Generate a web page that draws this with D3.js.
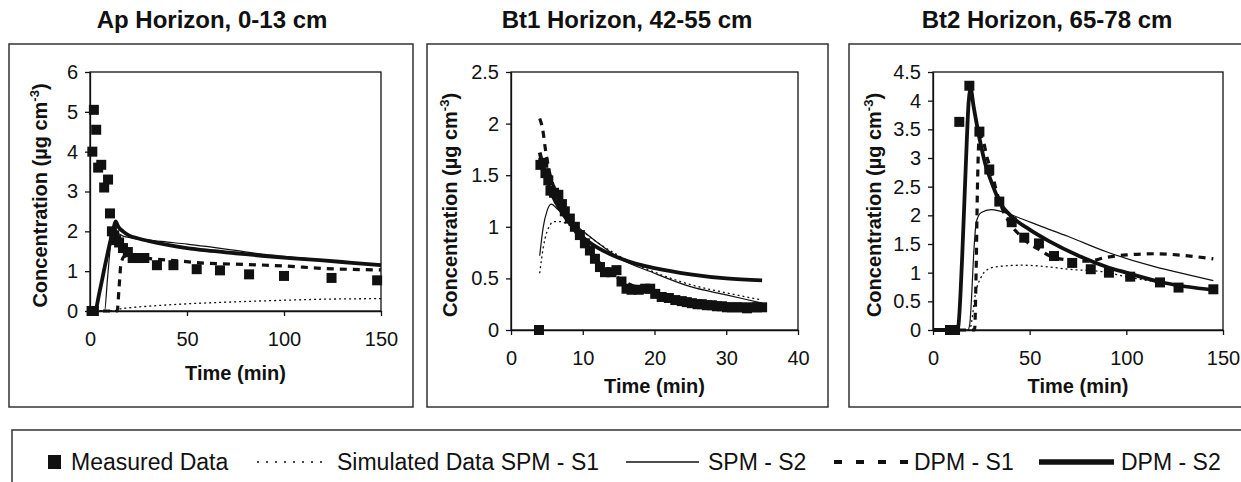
<!DOCTYPE html>
<html>
<head>
<meta charset="utf-8">
<script src="https://cdnjs.cloudflare.com/ajax/libs/d3/7.8.5/d3.min.js"></script>
<style>
body{margin:0;background:#fff;}
svg{display:block;font-family:"Liberation Sans",Arial,sans-serif;}
</style>
</head>
<body>
<svg id="chart" width="1241" height="482"></svg>
<script>
// ---- Ap horizon, 0-13 cm ----
var apMeasured = [[0.8,0],[2,0],[1.2,4.0],[2,5.05],[3.2,4.55],[4.2,3.6],[5.8,3.67],[7.3,3.1],[9.3,3.3],[10.3,2.45],[11.3,2.0],[12.5,1.9],[13.5,1.78],[15,1.72],[17,1.58],[19.5,1.48],[22,1.33],[25.5,1.33],[28,1.33],[34.5,1.15],[43,1.15],[55,1.05],[67,1.02],[82,0.92],[100,0.88],[124.5,0.83],[148,0.77]];
var apSpmS1 = [[0,0],[13,0],[14,0.04],[20,0.08],[30,0.12],[50,0.18],[75,0.23],[100,0.27],[125,0.3],[150,0.31]];
var apSpmS2 = [[0,0],[7.5,0],[9,0.8],[10.5,1.6],[12,1.92],[14,1.95],[17,1.88],[22,1.83],[30,1.78],[40,1.73],[50,1.68],[60,1.62],[75,1.52],[90,1.42],[105,1.35],[120,1.28],[135,1.22],[150,1.16]];
var apDpmS1 = [[0,0],[14,0],[15,0.6],[16,1.2],[18,1.38],[22,1.38],[30,1.32],[40,1.28],[60,1.2],[80,1.17],[100,1.13],[120,1.07],[150,1.03]];
var apDpmS2 = [[0,0],[2.5,0],[5,0.5],[8,1.2],[10,1.65],[12,2.05],[13.2,2.25],[14.5,2.12],[17,2.0],[20,1.9],[25,1.82],[30,1.76],[40,1.66],[50,1.58],[60,1.52],[75,1.45],[90,1.38],[105,1.32],[120,1.27],[135,1.21],[150,1.15]];
var apXTicks = [0,50,100,150];
var apYTicks = [0,1,2,3,4,5,6];

// ---- Bt1 horizon, 42-55 cm ----
var bt1Measured = [[3.9,0],[4.1,1.6],[4.5,1.62],[4.8,1.52],[5.2,1.45],[5.5,1.35],[6.0,1.33],[6.6,1.31],[7.1,1.22],[7.5,1.15],[8.2,1.08],[8.9,1.0],[9.6,0.92],[10.3,0.84],[11.0,0.77],[11.7,0.69],[12.4,0.61],[13.1,0.56],[14.0,0.56],[14.7,0.58],[15.4,0.47],[16.1,0.40],[16.8,0.39],[17.8,0.39],[18.7,0.40],[19.4,0.40],[20.1,0.35],[21.0,0.32],[22.0,0.31],[22.9,0.29],[23.8,0.28],[24.5,0.27],[25.2,0.26],[26.0,0.25],[26.6,0.25],[27.3,0.24],[28.0,0.24],[28.7,0.23],[29.4,0.23],[30.1,0.22],[30.8,0.22],[31.5,0.22],[32.2,0.22],[32.9,0.21],[33.6,0.22],[34.3,0.22],[35.0,0.22]];
var bt1SpmS1 = [[4,0.55],[4.5,0.8],[5,0.95],[6,1.05],[7,1.05],[8,1.02],[10,0.95],[12,0.85],[15,0.72],[20,0.56],[25,0.44],[30,0.36],[35,0.29]];
var bt1SpmS2 = [[4,0.72],[4.5,1.0],[5,1.15],[5.6,1.22],[6.5,1.17],[8,1.07],[10,0.96],[12,0.85],[15,0.7],[20,0.55],[25,0.42],[30,0.34],[35,0.26]];
var bt1DpmS1 = [[4,2.05],[4.4,1.95],[4.8,1.75],[5.3,1.55],[6,1.38],[7,1.22],[8,1.07],[9,0.95],[10,0.85],[11,0.76],[12,0.68],[13,0.6],[14,0.55],[16,0.46],[18,0.4],[20,0.35],[22,0.31],[25,0.27],[28,0.25],[31,0.23],[35,0.22]];
var bt1DpmS2 = [[4,1.72],[4.8,1.5],[5.8,1.3],[7,1.15],[8,1.05],[10,0.9],[12,0.8],[15,0.7],[17,0.65],[20,0.6],[25,0.54],[30,0.5],[35,0.48]];
var bt1XTicks = [0,10,20,30,40];
var bt1YTicks = [0,0.5,1,1.5,2,2.5];

// ---- Bt2 horizon, 65-78 cm ----
var bt2Measured = [[8.8,0],[11.4,0],[13.6,3.63],[18.8,4.26],[24,3.46],[29.1,2.8],[34.3,2.24],[40.7,1.88],[47.2,1.61],[54.8,1.51],[62.6,1.29],[72,1.17],[81.6,1.06],[91,1.0],[102,0.93],[117.4,0.83],[127,0.74],[145,0.71]];
var bt2SpmS1 = [[0,0],[19,0],[20,0.15],[21.7,0.58],[25,0.93],[28,1.05],[32,1.1],[46,1.13],[60,1.1],[70,1.06],[87,1.02],[100,0.93],[115,0.84],[130,0.76],[145,0.7]];
var bt2SpmS2 = [[0,0],[18,0],[19,0.1],[20,0.6],[21,1.3],[22.5,1.9],[25,2.05],[30,2.1],[35,2.07],[45,1.95],[55,1.82],[70,1.63],[90,1.36],[115,1.1],[130,0.98],[145,0.86]];
var bt2DpmS1 = [[0,0],[21.5,0],[22.3,1.0],[23,2.5],[24,3.4],[26,3.3],[28,3.0],[30,2.8],[33,2.4],[36,2.1],[40,1.85],[45,1.65],[50,1.5],[55,1.4],[60,1.3],[70,1.22],[80,1.2],[90,1.27],[100,1.31],[115,1.33],[130,1.3],[145,1.24]];
var bt2DpmS2 = [[0,0],[12,0],[13,0.05],[15,1.2],[17,2.9],[18.5,4.0],[19.5,4.2],[21,3.9],[24,3.35],[27,2.9],[30,2.6],[35,2.2],[40,2.0],[50,1.75],[60,1.55],[75,1.3],[90,1.1],[100,1.0],[120,0.82],[145,0.7]];
var bt2XTicks = [0,50,100,150];
var bt2YTicks = [0,0.5,1,1.5,2,2.5,3,3.5,4,4.5];

var seriesNames = ["Simulated Data SPM - S1","SPM - S2","DPM - S1","DPM - S2"];

// line look for each simulated series (plot / legend)
var lineStyles = {
	spmS1:{width:1.3,dash:"2,3",legWidth:1.5,legDash:"2,7"},
	spmS2:{width:1.2,dash:null,legWidth:1.5,legDash:null},
	dpmS1:{width:3.2,dash:"7,6",legWidth:4,legDash:"8,14"},
	dpmS2:{width:3.8,dash:null,legWidth:5.5,legDash:null}
};

var panels = [
	{title:"Ap Horizon, 0-13 cm",box:[9,44,404,363],plot:{l:90,r:381,t:72,b:311},titleX:212,ylabX:40,xlabY:380,
	 xDomain:[0,150],yDomain:[0,6],xTicks:apXTicks,yTicks:apYTicks,measured:apMeasured,
	 lines:{spmS1:apSpmS1,spmS2:apSpmS2,dpmS1:apDpmS1,dpmS2:apDpmS2}},
	{title:"Bt1 Horizon, 42-55 cm",box:[427,44,401,363],plot:{l:511,r:798,t:72,b:330},titleX:627,ylabX:450,xlabY:393,
	 xDomain:[0,40],yDomain:[0,2.5],xTicks:bt1XTicks,yTicks:bt1YTicks,measured:bt1Measured,
	 lines:{spmS1:bt1SpmS1,spmS2:bt1SpmS2,dpmS1:bt1DpmS1,dpmS2:bt1DpmS2}},
	{title:"Bt2 Horizon, 65-78 cm",box:[849,44,420,363],plot:{l:933,r:1223,t:72,b:330},titleX:1047,ylabX:874,xlabY:393,
	 xDomain:[0,150],yDomain:[0,4.5],xTicks:bt2XTicks,yTicks:bt2YTicks,measured:bt2Measured,
	 lines:{spmS1:bt2SpmS1,spmS2:bt2SpmS2,dpmS1:bt2DpmS1,dpmS2:bt2DpmS2}}
];

var svg = d3.select("#chart");
var ink = "#111";

panels.forEach(function(p){
	var x = d3.scaleLinear().domain(p.xDomain).range([p.plot.l,p.plot.r]);
	var y = d3.scaleLinear().domain(p.yDomain).range([p.plot.b,p.plot.t]);

	// outer frame of the panel
	svg.append("rect")
		.attr("x",p.box[0]).attr("y",p.box[1])
		.attr("width",p.box[2]).attr("height",p.box[3])
		.attr("fill","none").attr("stroke","#333").attr("stroke-width",1.5);

	svg.append("text")
		.attr("x",p.titleX).attr("y",28)
		.attr("text-anchor","middle")
		.attr("font-size",24).attr("font-weight","bold")
		.attr("fill",ink)
		.text(p.title);

	// plot area box
	svg.append("rect")
		.attr("x",p.plot.l).attr("y",p.plot.t)
		.attr("width",p.plot.r-p.plot.l).attr("height",p.plot.b-p.plot.t)
		.attr("fill","none").attr("stroke",ink).attr("stroke-width",1.3);

	var gx = svg.append("g")
		.attr("transform","translate(0,"+p.plot.b+")")
		.call(d3.axisBottom(x).tickValues(p.xTicks).tickSize(5).tickSizeOuter(0).tickPadding(16)
			.tickFormat(function(d){return d;}));
	var gy = svg.append("g")
		.attr("transform","translate("+p.plot.l+",0)")
		.call(d3.axisLeft(y).tickValues(p.yTicks).tickSize(5).tickSizeOuter(0).tickPadding(7)
			.tickFormat(function(d){return d;}));
	[gx,gy].forEach(function(g){
		g.attr("font-family",null).attr("font-size",20);
		g.selectAll("path,line").attr("stroke",ink).attr("stroke-width",1.3);
		g.selectAll("text").attr("fill",ink);
	});

	svg.append("text")
		.attr("x",(p.plot.l+p.plot.r)/2).attr("y",p.xlabY)
		.attr("text-anchor","middle")
		.attr("font-size",20).attr("font-weight","bold").attr("fill",ink)
		.text("Time (min)");

	var yl = svg.append("text")
		.attr("transform","translate("+p.ylabX+","+((p.plot.t+p.plot.b)/2+4)+") rotate(-90)")
		.attr("text-anchor","middle")
		.attr("dy","0.35em")
		.attr("font-size",20).attr("font-weight","bold").attr("fill",ink);
	yl.append("tspan").text("Concentration (\u00b5g cm");
	yl.append("tspan").attr("dy",-8).attr("font-size",13).text("-3");
	yl.append("tspan").attr("dy",8).text(")");

	// measured squares
	svg.append("g").selectAll("rect")
		.data(p.measured)
		.enter()
		.append("rect")
		.attr("x",function(d){return x(d[0])-5;})
		.attr("y",function(d){return y(d[1])-5;})
		.attr("width",10).attr("height",10)
		.attr("fill",ink);

	var line = d3.line()
		.x(function(d){return x(d[0]);})
		.y(function(d){return y(d[1]);})
		.curve(d3.curveMonotoneX);

	["spmS1","spmS2","dpmS1","dpmS2"].forEach(function(k){
		svg.append("path")
			.datum(p.lines[k])
			.attr("d",line)
			.attr("fill","none")
			.attr("stroke",ink)
			.attr("stroke-width",lineStyles[k].width)
			.attr("stroke-dasharray",lineStyles[k].dash);
	});
});

// legend
svg.append("rect")
	.attr("x",12).attr("y",430).attr("width",1240).attr("height",70)
	.attr("fill","none").attr("stroke","#333").attr("stroke-width",1.5);

var legY = 462;
svg.append("rect").attr("x",48).attr("y",legY-7).attr("width",13).attr("height",14).attr("fill",ink);
svg.append("text").attr("x",71).attr("y",legY+8).attr("font-size",23).attr("fill",ink).text("Measured Data");

var legItems = [
	{key:"spmS1",x1:257,x2:326,tx:337},
	{key:"spmS2",x1:626,x2:699,tx:708},
	{key:"dpmS1",x1:834,x2:908,tx:914},
	{key:"dpmS2",x1:1039,x2:1114,tx:1121}
];
legItems.forEach(function(it,i){
	var st = lineStyles[it.key];
	svg.append("line")
		.attr("x1",it.x1).attr("x2",it.x2).attr("y1",legY).attr("y2",legY)
		.attr("stroke",ink)
		.attr("stroke-width",st.legWidth)
		.attr("stroke-dasharray",st.legDash);
	svg.append("text").attr("x",it.tx).attr("y",legY+8)
		.attr("font-size",23).attr("fill",ink)
		.text(seriesNames[i]);
});
</script>
</body>
</html>
